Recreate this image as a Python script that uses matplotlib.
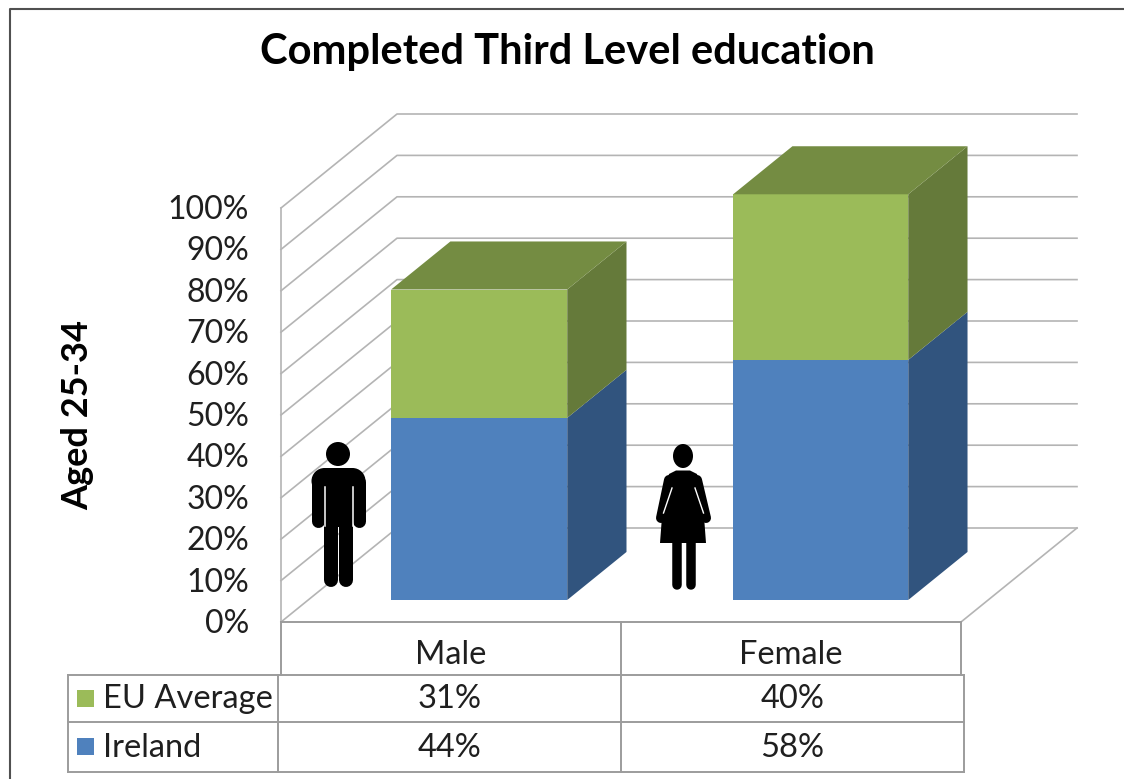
import matplotlib
matplotlib.use('Agg')
import matplotlib.pyplot as plt
from matplotlib.patches import Polygon, Circle, Ellipse, Rectangle

plt.rcParams['font.family'] = ['Lato', 'DejaVu Sans']

categories = ['Male', 'Female']
ireland = [44, 58]
eu_average = [31, 40]
series_names = ['EU Average', 'Ireland']
ticks = list(range(0, 101, 10))

# bars sit inside a category slot and inside the floor depth (0..1)
bar_left = [0.244, 0.25]
bar_right = [0.762, 0.765]
depth_front = 0.234
depth_back = 0.745

BLUE = ('#4F81BD', '#31547E')
GREEN = ('#9BBB59', '#657A3A')
GREEN_TOP = '#748C42'
GRID = '#B4B4B4'
TABLE = '#9C9C9C'
TEXT = '#1F1F1F'


def project(cat, pct, depth=0.0):
    # oblique projection of (category, percent, depth) to image pixels
    return 281 + cat * 340 + depth * 116, 622 - pct * 4.14 - depth * 94


fig = plt.figure(figsize=(11.24, 7.79), dpi=100)
ax = fig.add_axes([0, 0, 1, 1])
ax.set_xlim(0, 1124)
ax.set_ylim(779, 0)
ax.axis('off')

# outer frame
ax.plot([10, 10, 1124], [779, 9, 9], color='#505050', lw=1.5)

ax.text(567, 52, 'Completed Third Level education', ha='center', va='center',
        fontsize=30, fontweight='bold', color='black')
ax.text(78, 415, 'Aged 25-34', rotation=90, ha='center', va='center',
        fontsize=26, fontweight='bold', color='black')

# walls and floor
for t in ticks:
    x0, y0 = project(0, t)
    x1, y1 = project(0, t, 1)
    x2, y2 = project(2, t, 1)
    ax.plot([x0, x1, x2], [y0, y1, y2], color=GRID, lw=1.2, zorder=1)
    ax.text(249, y0 + 2, '%d%%' % t, ha='right', va='center', fontsize=23, color=TEXT)
x0, y0 = project(0, 100)
x1, y1 = project(0, 0)
ax.plot([x0, x1], [y0, y1], color=GRID, lw=1.2, zorder=1)
x0, y0 = project(2, 0)
x1, y1 = project(2, 0, 1)
ax.plot([x0, x1], [y0, y1], color=GRID, lw=1.2, zorder=1)


def face(points, color):
    ax.add_patch(Polygon(points, closed=True, facecolor=color, edgecolor='none', zorder=3))


# stacked boxes
for i in range(len(categories)):
    a, b = i + bar_left[i], i + bar_right[i]
    base = 0
    for value, colors in [(ireland[i], BLUE), (eu_average[i], GREEN)]:
        top = base + value
        face([project(b, base, depth_front), project(b, base, depth_back),
              project(b, top, depth_back), project(b, top, depth_front)], colors[1])
        face([project(a, base, depth_front), project(b, base, depth_front),
              project(b, top, depth_front), project(a, top, depth_front)], colors[0])
        base = top
    face([project(a, base, depth_front), project(b, base, depth_front),
          project(b, base, depth_back), project(a, base, depth_back)], GREEN_TOP)

# man icon
ax.add_patch(Circle((338, 454), 12, color='black', lw=0, zorder=5))
for x in [324.5, 352.5]:
    ax.add_patch(Circle((x, 481), 13, color='black', lw=0, zorder=5))
ax.add_patch(Rectangle((324, 468), 29, 59, color='black', lw=0, zorder=5))
for x in [318, 359]:
    ax.plot([x, x], [482, 521], color='black', lw=13 * 0.72, solid_capstyle='round', zorder=5)
for x in [324.5, 352.5]:
    ax.plot([x, x], [487, 526], color='white', lw=1.1, zorder=6)
for x in [331, 346]:
    ax.plot([x, x], [520, 580], color='black', lw=14 * 0.72, solid_capstyle='round', zorder=5)

# woman icon
ax.add_patch(Ellipse((683, 456), 20, 24, color='black', lw=0, zorder=5))
ax.add_patch(Polygon([(676, 470.5), (690, 470.5), (697, 474), (702, 490), (706, 543),
                      (660, 543), (664, 490), (669, 474)],
                     closed=True, color='black', lw=0, zorder=5))
for sx, ex in [(669, 661), (697, 706)]:
    ax.plot([sx, ex], [480, 518], color='black', lw=10 * 0.72, solid_capstyle='round', zorder=5)
for x1_, x2_ in [(672, 663.5), (695, 703.5)]:
    ax.plot([x1_, x2_], [488, 513], color='white', lw=1.0, zorder=6)
ax.add_patch(Polygon([(663.5, 513), (672, 488), (660, 543)], closed=True, color='white', lw=0, zorder=4))
for x in [677, 690.5]:
    ax.plot([x, x], [540, 585], color='black', lw=9.5 * 0.72, solid_capstyle='round', zorder=5)

# data table under the chart
tx = [68, 278, 621, 964]
ty = [675, 722, 771.5]
hx = [project(c, 0)[0] for c in range(3)]
for x in hx:
    ax.plot([x, x], [622, 675], color=TABLE, lw=1.4)
ax.plot([hx[0], hx[-1]], [622, 622], color=TABLE, lw=1.4)
for y in ty:
    ax.plot([tx[0], tx[-1]], [y, y], color=TABLE, lw=1.4)
for x in tx:
    ax.plot([x, x], [ty[0], ty[-1]], color=TABLE, lw=1.4)

for i, name in enumerate(categories):
    ax.text(project(i + 0.5, 0)[0], 655, name, ha='center', va='center',
            fontsize=23.5, color=TEXT)

rows = [eu_average, ireland]
row_colors = [GREEN[0], BLUE[0]]
for r, name in enumerate(series_names):
    yc = (ty[r] + ty[r + 1]) / 2
    ax.add_patch(Rectangle((77, yc - 9), 17, 17, color=row_colors[r], lw=0))
    ax.text(103, yc + 1, name, ha='left', va='center', fontsize=23.5, color=TEXT)
    for i, v in enumerate(rows[r]):
        ax.text((tx[i + 1] + tx[i + 2]) / 2, yc + 1, '%d%%' % v, ha='center', va='center',
                fontsize=23.5, color=TEXT)

fig.savefig('out.png', dpi=100)
